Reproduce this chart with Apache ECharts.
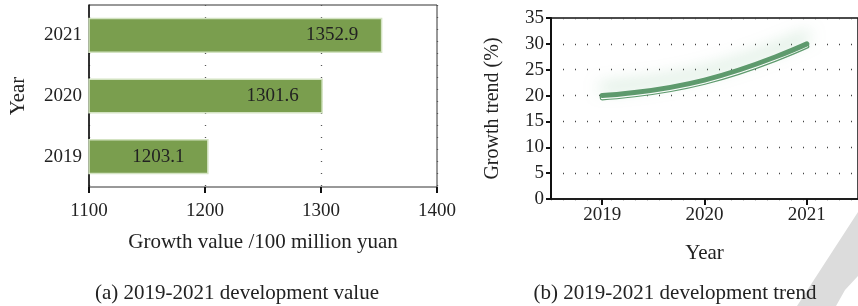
<!DOCTYPE html>
<html>
<head>
<meta charset="utf-8">
<script src="https://cdn.jsdelivr.net/npm/echarts@6/dist/echarts.min.js"></script>
<style>
html, body { margin: 0; padding: 0; background: #fff; }
#main { width: 858px; height: 306px; }
</style>
</head>
<body>
<div id="main"></div>
<script>
// data
var years = ['2019', '2020', '2021'];
var growthValue = [1203.1, 1301.6, 1352.9];
var growthTrend = [20, 23, 30];

var fnt = 'Liberation Serif';
var green = '#5e9a6d';
var txt = '#222';

var myChart = echarts.init(document.getElementById('main'));

var option = {
    animation: false,
    textStyle: { fontFamily: fnt },
    title: [
        { text: '(a) 2019-2021 development value', left: 232, top: 278, textAlign: 'center',
          textStyle: { fontFamily: fnt, fontSize: 21, fontWeight: 'normal', color: txt } },
        { text: '(b) 2019-2021 development trend', left: 670, top: 278, textAlign: 'center',
          textStyle: { fontFamily: fnt, fontSize: 21, fontWeight: 'normal', color: txt } }
    ],
    graphic: [
        // grey watermark corner
        { type: 'polygon', silent: true, z: -1,
          shape: { points: [[797, 306], [858, 212], [858, 276], [845, 290], [836, 306]] },
          style: { fill: '#dcdcdc' } }
    ],
    grid: [
        { left: 89, top: 5, right: 421, bottom: 119, show: true, borderColor: '#333', borderWidth: 1 },
        { left: 551, top: 18, right: -8, bottom: 107, show: true, borderColor: '#111', borderWidth: 1.5 }
    ],
    xAxis: [
        {
            gridIndex: 0, type: 'value', min: 1100, max: 1400, interval: 100,
            name: 'Growth value /100 million yuan', nameLocation: 'middle', nameGap: 45,
            nameTextStyle: { fontFamily: fnt, fontSize: 21, color: txt },
            axisLine: { lineStyle: { color: '#111', width: 1.5 } },
            axisTick: { show: true, length: 6, lineStyle: { color: '#111', width: 2 } },
            axisLabel: { fontFamily: fnt, fontSize: 19, color: txt, margin: 15,
                         formatter: function (v) { return String(v); } },
            splitLine: { show: true, lineStyle: { color: '#555', type: [1, 11], width: 1.3 } }
        },
        {
            gridIndex: 1, type: 'category', data: years,
            name: 'Year', nameLocation: 'middle', nameGap: 44,
            nameTextStyle: { fontFamily: fnt, fontSize: 21, color: txt },
            axisLine: { lineStyle: { color: '#111', width: 1.5 } },
            axisTick: { show: true, alignWithLabel: true, length: 6, lineStyle: { color: '#111', width: 2 } },
            axisLabel: { fontFamily: fnt, fontSize: 19, color: txt, margin: 7 },
            splitLine: { show: false }
        }
    ],
    yAxis: [
        {
            gridIndex: 0, type: 'category', data: years,
            name: 'Year', nameLocation: 'middle', nameGap: 60,
            nameTextStyle: { fontFamily: fnt, fontSize: 21, color: txt },
            axisLine: { lineStyle: { color: '#111', width: 1.5 } },
            axisTick: { show: false },
            axisLabel: { fontFamily: fnt, fontSize: 19, color: txt, margin: 7 }
        },
        {
            gridIndex: 1, type: 'value', min: 0, max: 35, interval: 5,
            name: 'Growth trend (%)', nameLocation: 'middle', nameGap: 48,
            nameTextStyle: { fontFamily: fnt, fontSize: 20, color: txt },
            axisLine: { show: true, lineStyle: { color: '#111', width: 2 } },
            axisTick: { show: true, length: 5, lineStyle: { color: '#111', width: 2 } },
            axisLabel: { fontFamily: fnt, fontSize: 19, color: txt, margin: 7 },
            splitLine: { show: true, lineStyle: { color: '#444', type: [1, 11], width: 1.3 } }
        },
        // hidden axis, a touch lower, for the thin outline under the trend line
        { gridIndex: 1, type: 'value', min: 0.45, max: 35.45, show: false, splitLine: { show: false } }
    ],
    series: [
        {
            type: 'bar', xAxisIndex: 0, yAxisIndex: 0, data: growthValue,
            barCategoryGap: '42%',
            itemStyle: { color: '#7a9e4e', borderColor: '#d3e3c2', borderWidth: 1.5 },
            label: { show: true, position: 'insideRight', distance: 24, fontFamily: fnt, fontSize: 19, color: txt,
                     formatter: function (p) { return p.value.toFixed(1); } }
        },
        {
            type: 'line', xAxisIndex: 1, yAxisIndex: 2, data: growthTrend, smooth: true,
            symbol: 'none', lineStyle: { color: green, width: 5, cap: 'round' }
        },
        {
            type: 'line', xAxisIndex: 1, yAxisIndex: 2, data: growthTrend, smooth: true,
            symbol: 'none', lineStyle: { color: '#fff', width: 2.6, cap: 'round' }
        },
        {
            type: 'line', xAxisIndex: 1, yAxisIndex: 1, data: growthTrend, smooth: true,
            symbol: 'none',
            lineStyle: { color: green, width: 5, cap: 'round',
                         shadowColor: 'rgba(120,185,140,0.55)', shadowBlur: 16, shadowOffsetY: -8 }
        }
    ]
};

myChart.setOption(option);
</script>
</body>
</html>
